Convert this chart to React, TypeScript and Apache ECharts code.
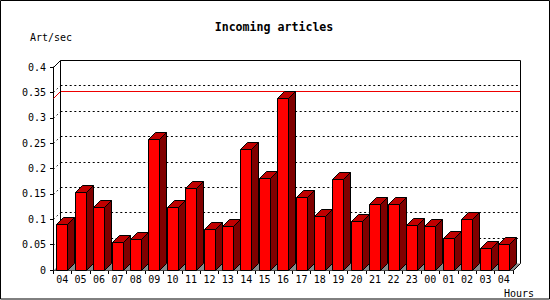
import React, { useEffect, useRef } from "react";
import * as echarts from "echarts";

const categories = ["04", "05", "06", "07", "08", "09", "10", "11", "12", "13", "14", "15", "16", "17", "18", "19", "20", "21", "22", "23", "00", "01", "02", "03", "04"];
const values = [0.090, 0.153, 0.124, 0.055, 0.062, 0.259, 0.124, 0.161, 0.080, 0.086, 0.238, 0.181, 0.338, 0.143, 0.106, 0.179, 0.096, 0.131, 0.131, 0.088, 0.086, 0.064, 0.100, 0.043, 0.051];
const yTicks = [0, 0.05, 0.1, 0.15, 0.2, 0.25, 0.3, 0.35, 0.4];
const titleText = "Incoming articles";
const yName = "Art/sec";
const xName = "Hours";

const DEPTH = 7;
const FONT = "'DejaVu Sans Mono', monospace";
const px = (v: number) => Math.round(v) + 0.5;

export default function App() {
  const ref = useRef<HTMLDivElement>(null);

  useEffect(() => {
    document.body.style.margin = "0";
    const chart = echarts.init(ref.current as HTMLDivElement, null, { renderer: "svg" });
    const maxVal = Math.max(...values);

    const seg = (x1: number, y1: number, x2: number, y2: number, style: any) => ({
      type: "line",
      shape: { x1, y1, x2, y2 },
      style: { lineWidth: 1, ...style },
    });

    const decorItem = (params: any, api: any) => {
      const cs = params.coordSys;
      const L = px(cs.x), R = px(cs.x + cs.width), T = px(cs.y), B = px(cs.y + cs.height);
      const d = DEPTH;
      const children: any[] = [];
      // floor
      children.push({
        type: "polygon",
        shape: { points: [[L, B], [L + d, B - d], [R + d, B - d], [R, B]] },
        style: { fill: "#8a8a8a", stroke: "none" },
      });
      // back-wall grid lines and side-wall diagonals
      yTicks.slice(1, -1).forEach((v) => {
        const y = px(api.coord([0, v])[1]);
        children.push(seg(L + d, y - d, R + d, y - d, { stroke: "#000", lineDash: [2, 2.6] }));
        children.push(seg(L, y, L + d, y - d, { stroke: "#000", lineDash: [1.5, 3] }));
      });
      // max value line
      const ym = px(api.coord([0, maxVal])[1]);
      children.push(seg(L, ym, L + d, ym - d, { stroke: "#ee0000" }));
      children.push(seg(L + d, ym - d, R + d, ym - d, { stroke: "#ee0000" }));
      // frame
      const black = { stroke: "#000" };
      children.push(seg(L, T, L + d, T - d, black));
      children.push(seg(L + d, T - d, R + d, T - d, black));
      children.push(seg(R + d, T - d, R + d, B - d, black));
      children.push(seg(R + d, B - d, R, B, black));
      children.push(seg(L + d, T - d, L + d, B - d, black));
      return { type: "group", children };
    };

    const barItem = (params: any, api: any) => {
      const i = api.value(0);
      const v = api.value(1);
      const top = api.coord([i, v]);
      const base = api.coord([i, 0]);
      const w = api.size([1, 0])[0];
      const d = DEPTH;
      const bw = Math.round(w * 0.6);
      const x1 = px(top[0] - w / 2 + w * 0.185);
      const x2 = x1 + bw;
      const yt = px(top[1]);
      const yb = px(base[1]);
      const stroke = { stroke: "#000", lineWidth: 1 };
      return {
        type: "group",
        children: [
          {
            type: "polygon",
            shape: { points: [[x2, yt], [x2 + d, yt - d], [x2 + d, yb - d], [x2, yb]] },
            style: { fill: "#800000", ...stroke },
          },
          {
            type: "polygon",
            shape: { points: [[x1, yt], [x1 + d, yt - d], [x2 + d, yt - d], [x2, yt]] },
            style: { fill: "#c00000", ...stroke },
          },
          {
            type: "polygon",
            shape: { points: [[x1, yt], [x2, yt], [x2, yb], [x1, yb]] },
            style: { fill: "#ff0000", ...stroke },
          },
        ],
      };
    };

    chart.setOption({
      animation: false,
      backgroundColor: "#ffffff",
      grid: { left: 53, top: 67, width: 460, height: 203, containLabel: false },
      xAxis: {
        type: "category",
        data: categories,
        boundaryGap: true,
        axisLine: { show: true, lineStyle: { color: "#000", width: 1 } },
        axisTick: { show: true, length: 4, interval: 0, lineStyle: { color: "#000" } },
        axisLabel: { color: "#000", fontFamily: FONT, fontSize: 10, margin: 4, interval: 0 },
        splitLine: { show: false },
      },
      yAxis: {
        type: "value",
        min: yTicks[0],
        max: yTicks[yTicks.length - 1],
        interval: 0.05,
        axisLine: { show: true, lineStyle: { color: "#000", width: 1 } },
        axisTick: { show: true, length: 3, lineStyle: { color: "#000" } },
        axisLabel: { color: "#000", fontFamily: FONT, fontSize: 10, margin: 7 },
        splitLine: { show: false },
      },
      series: [
        {
          type: "custom",
          z: 1,
          silent: true,
          data: [[0, 0]],
          renderItem: decorItem,
        },
        {
          type: "custom",
          z: 2,
          data: values.map((v, i) => [i, v]),
          encode: { x: 0, y: 1 },
          renderItem: barItem,
        },
      ],
      graphic: [
        {
          type: "rect",
          shape: { x: 0.5, y: 0.5, width: 549, height: 298.5 },
          style: { fill: "none", stroke: "#000", lineWidth: 1 },
          z: 10,
        },
        {
          type: "text",
          x: 274,
          y: 27,
          style: {
            text: titleText,
            fontFamily: FONT,
            fontSize: 11.6,
            fontWeight: "bold",
            fill: "#000",
            align: "center",
            verticalAlign: "middle",
          },
        },
        {
          type: "text",
          x: 30,
          y: 37,
          style: { text: yName, fontFamily: FONT, fontSize: 10, fill: "#000", align: "left", verticalAlign: "middle" },
        },
        {
          type: "text",
          x: 504,
          y: 293,
          style: { text: xName, fontFamily: FONT, fontSize: 10, fill: "#000", align: "left", verticalAlign: "middle" },
        },
      ],
    });

    return () => chart.dispose();
  }, []);

  return <div ref={ref} style={{ position: "absolute", left: 0, top: 0, width: 550, height: 300 }} />;
}
